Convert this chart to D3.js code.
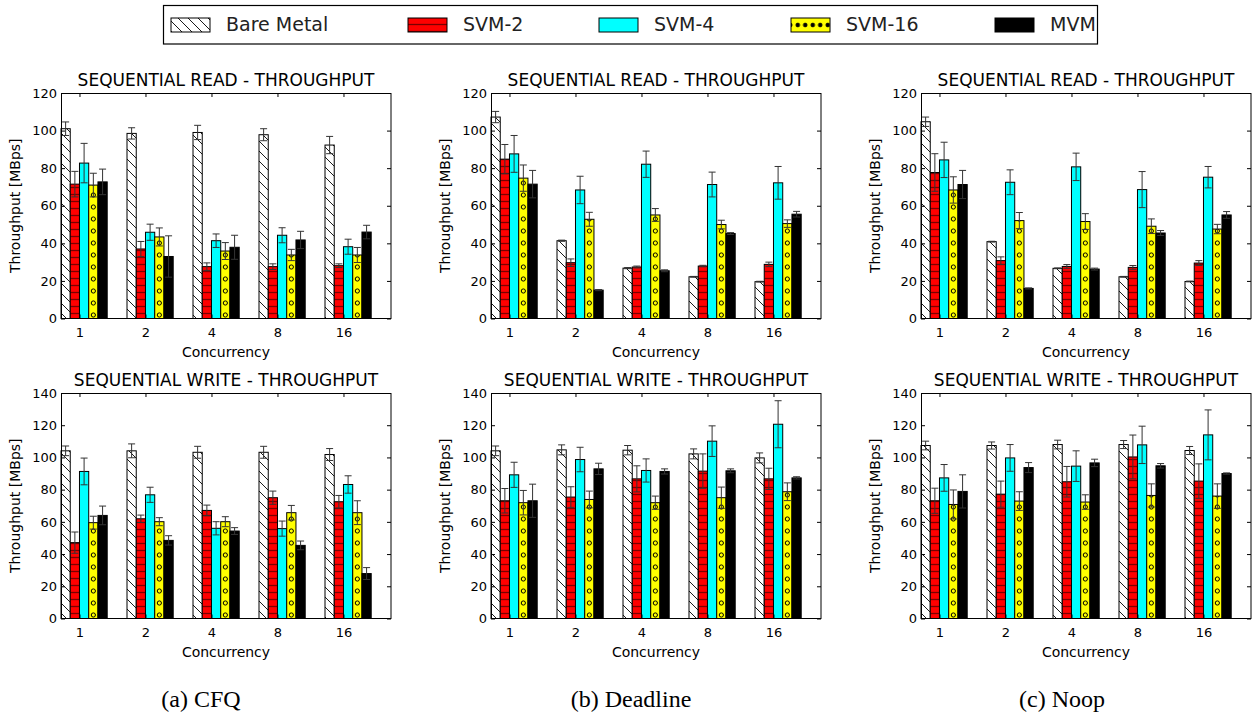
<!DOCTYPE html>
<html><head><meta charset="utf-8">
<script src="https://cdn.jsdelivr.net/npm/d3@7"></script>
<style>body{margin:0;background:#fff} svg{display:block}</style>
</head><body><svg id="c" width="1253" height="713"></svg>
<script>
// ---------- data ----------
const categories = ["1","2","4","8","16"];
const seriesNames = ["Bare Metal","SVM-2","SVM-4","SVM-16","MVM"];
const readTicks = [0,20,40,60,80,100,120];
const writeTicks = [0,20,40,60,80,100,120,140];
const rowTitles = ["SEQUENTIAL READ - THROUGHPUT","SEQUENTIAL WRITE - THROUGHPUT"];
const captions = ["(a) CFQ","(b) Deadline","(c) Noop"];
const xLabel = "Concurrency";
const yLabel = "Throughput [MBps]";

// rows = series (Bare Metal, SVM-2, SVM-4, SVM-16, MVM), cols = concurrency 1,2,4,8,16
const cfqReadMean = [
  [101,98.5,99,97.8,92.3],
  [71.5,37,27.6,27.6,28.1],
  [82.7,45.9,41.4,44.3,38.2],
  [71,43.4,35.9,33.8,33.8],
  [72.7,33,37.9,41.8,46]];
const cfqReadErr = [
  [3.6,3,3.8,3.2,4.6],
  [6.8,4,2,1.5,1],
  [10.5,4.3,3.6,4,4],
  [6.3,4.8,4.5,3,4],
  [6.8,11,6.4,4.6,3.6]];
const deadlineReadMean = [
  [107.2,41.4,26.8,22.2,19.6],
  [84.8,29.7,27.4,27.9,28.8],
  [87.6,68.4,82.1,71.3,72.2],
  [74.7,52.8,55.1,50,50.5],
  [71.5,15.1,25.4,45.2,55.5]];
const deadlineReadErr = [
  [3,0.3,0.3,0.2,0.2],
  [7.8,2,0.5,0.4,1.2],
  [9.8,7.3,7,6.6,8.7],
  [7,3.7,3.4,2.3,2],
  [7.3,0.3,0.5,0.5,1.5]];
const noopReadMean = [
  [104.7,40.9,26.7,22.2,19.7],
  [77.7,30.8,27.7,27.2,29.5],
  [84.4,72.5,80.7,68.6,75.2],
  [68.4,52.1,51.6,49.1,47.6],
  [71.3,16,26.3,45.5,55.1]];
const noopReadErr = [
  [2.5,0.2,0.2,0.2,0.2],
  [10,2,1,1,1.3],
  [9.4,6.6,7.3,9.6,5.7],
  [7,4.3,4.2,3.9,2.5],
  [7.5,0.3,0.5,1.3,1.8]];
const cfqWriteMean = [
  [104.1,104.1,103.2,103.2,101.8],
  [47.1,61.9,67.1,75,72.5],
  [91.3,76.8,56,55.8,83.2],
  [59.5,60.1,60.1,65.7,65.7],
  [64,48.5,54.3,45.4,27.9]];
const cfqWriteErr = [
  [3,4.3,3.7,3.7,3.7],
  [6.6,2.3,3.3,4.1,3.9],
  [8.3,4.7,4.1,4.7,5.4],
  [4,2.5,3.1,4.5,7.4],
  [5.8,2.9,2.1,2.7,3.7]];
const deadlineWriteMean = [
  [104.1,104.7,104.5,102.2,99.7],
  [73.1,75.4,86.7,91.5,86.7],
  [89.2,98.7,91.9,110.1,120.6],
  [71.9,73.9,71.9,75,78.7],
  [73.1,92.9,91.3,91.7,87.3]];
const deadlineWriteErr = [
  [3,3.1,2.9,3.1,3.1],
  [7.6,6.4,8.1,10.7,6.6],
  [7.8,7.6,7.2,9.5,14.6],
  [7.6,5.2,4.1,6.6,5.5],
  [10.3,3.5,1.6,1.2,0.7]];
const noopWriteMean = [
  [107.4,107.4,108,108,104.3],
  [73.1,77.2,84.9,100.3,85.3],
  [87.3,99.7,94.6,107.8,114],
  [70.8,72.9,72.3,76.4,76],
  [78.9,93.7,96.6,94.8,90]];
const noopWriteErr = [
  [2.7,2.2,2.7,2.5,2.5],
  [7.8,8.1,9.5,13.6,10.7],
  [8.3,8.3,9.5,11.6,15.5],
  [9,5.8,4.5,7.2,7.6],
  [10.3,3.1,2.3,1.4,0.4]];

// ---------- layout / style ----------
const FONT = "DejaVu Sans, Verdana, sans-serif";
const colLeft = [61, 491, 921];
const rowTop = [93, 393];
const plotW = 330, plotH = 225.5;
const barW = 0.14, tickOff = 0.28;
const seriesFill = ["#ffffff","#ff0000","#00ffff","#ffff00","#000000"];

const panels = [
  {col:0,row:0,mean:cfqReadMean,err:cfqReadErr,ticks:readTicks},
  {col:1,row:0,mean:deadlineReadMean,err:deadlineReadErr,ticks:readTicks},
  {col:2,row:0,mean:noopReadMean,err:noopReadErr,ticks:readTicks},
  {col:0,row:1,mean:cfqWriteMean,err:cfqWriteErr,ticks:writeTicks},
  {col:1,row:1,mean:deadlineWriteMean,err:deadlineWriteErr,ticks:writeTicks},
  {col:2,row:1,mean:noopWriteMean,err:noopWriteErr,ticks:writeTicks},
];

const svg = d3.select("#c");
svg.append("rect").attr("width",1253).attr("height",713).attr("fill","#fff");
const defs = svg.append("defs");

const x = d3.scaleLinear().domain([0, categories.length]).range([0, plotW]);
const step = x(1) - x(0);
const bw = x(barW) - x(0);

// patterns
function diagPattern(id){
  const p = defs.append("pattern").attr("id",id).attr("patternUnits","userSpaceOnUse")
    .attr("width",10).attr("height",10);
  p.append("rect").attr("width",10).attr("height",10).attr("fill","#fff");
  p.append("path").attr("d","M-5,5 L5,15 M0,0 L10,10 M5,-5 L15,5")
    .attr("stroke","#000").attr("stroke-width",0.9).attr("fill","none");
}
function redPattern(id){
  const p = defs.append("pattern").attr("id",id).attr("patternUnits","userSpaceOnUse")
    .attr("width",10).attr("height",7);
  p.append("rect").attr("width",10).attr("height",7).attr("fill","#ff0000");
  p.append("line").attr("x1",0).attr("x2",10).attr("y1",3.5).attr("y2",3.5)
    .attr("stroke","#7a0000").attr("stroke-width",1.3);
}
diagPattern("pat-bm");
redPattern("pat-red");
{
  const p = defs.append("pattern").attr("id","pat-yel").attr("patternUnits","userSpaceOnUse")
    .attr("width",step).attr("height",12);
  p.append("rect").attr("width",step).attr("height",12).attr("fill","#ffff00");
  p.append("circle").attr("cx",x(3*barW + barW/2) - x(0)).attr("cy",6).attr("r",2.1)
    .attr("fill","none").attr("stroke","#000").attr("stroke-width",1);
}
const seriesPaint = ["url(#pat-bm)","url(#pat-red)","#00ffff","url(#pat-yel)","#000000"];

panels.forEach(P => {
  const g = svg.append("g").attr("transform",`translate(${colLeft[P.col]},${rowTop[P.row]})`);
  const yMax = P.ticks[P.ticks.length-1];
  const y = d3.scaleLinear().domain([0, yMax]).range([plotH, 0]);

  // bars
  const bars = [];
  P.mean.forEach((row, s) => row.forEach((v, i) => bars.push({s, i, v, e: P.err[s][i]})));
  g.selectAll("rect.bar").data(bars).join("rect").attr("class","bar")
    .attr("x", d => x(d.i + d.s*barW))
    .attr("y", d => y(d.v))
    .attr("width", bw)
    .attr("height", d => y(0) - y(d.v))
    .attr("fill", d => seriesPaint[d.s])
    .attr("stroke","#000").attr("stroke-width",1);

  // error bars
  const eb = g.selectAll("g.eb").data(bars).join("g").attr("class","eb")
    .attr("stroke","#333").attr("stroke-width",1).attr("fill","none");
  eb.append("line")
    .attr("x1", d => x(d.i + d.s*barW + barW/2)).attr("x2", d => x(d.i + d.s*barW + barW/2))
    .attr("y1", d => y(d.v - d.e)).attr("y2", d => y(d.v + d.e));
  eb.append("line")
    .attr("x1", d => x(d.i + d.s*barW + barW/2) - 3.5).attr("x2", d => x(d.i + d.s*barW + barW/2) + 3.5)
    .attr("y1", d => y(d.v + d.e)).attr("y2", d => y(d.v + d.e));
  eb.append("line")
    .attr("x1", d => x(d.i + d.s*barW + barW/2) - 3.5).attr("x2", d => x(d.i + d.s*barW + barW/2) + 3.5)
    .attr("y1", d => y(d.v - d.e)).attr("y2", d => y(d.v - d.e));

  // axes
  const tickVals = categories.map((c, i) => i + tickOff);
  const styleAxis = a => { a.select(".domain").remove(); a.selectAll("text").attr("font-family",FONT).attr("font-size",13).attr("fill","#000"); a.selectAll("line").attr("stroke","#000"); };
  g.append("g").call(d3.axisLeft(y).tickValues(P.ticks).tickSize(-4).tickPadding(4)).call(styleAxis);
  g.append("g").attr("transform",`translate(${plotW},0)`).call(d3.axisRight(y).tickValues(P.ticks).tickSize(-4).tickFormat("")).call(styleAxis);
  g.append("g").attr("transform",`translate(0,${plotH})`).call(d3.axisBottom(x).tickValues(tickVals).tickSize(-4).tickPadding(9.5).tickFormat((d,i)=>categories[i])).call(styleAxis);
  g.append("g").call(d3.axisTop(x).tickValues(tickVals).tickSize(-4).tickFormat("")).call(styleAxis);

  // frame
  g.append("rect").attr("x",0.5).attr("y",0.5).attr("width",plotW-0.5).attr("height",plotH-0.5)
    .attr("fill","none").attr("stroke","#000").attr("stroke-width",1);

  // title, labels
  g.append("text").attr("x",plotW/2).attr("y",-7).attr("text-anchor","middle")
    .attr("font-family",FONT).attr("font-size",17).text(rowTitles[P.row]);
  g.append("text").attr("x",plotW/2).attr("y",plotH+38).attr("text-anchor","middle")
    .attr("font-family",FONT).attr("font-size",14).text(xLabel);
  g.append("text").attr("transform",`translate(-41,${plotH/2}) rotate(-90)`).attr("text-anchor","middle")
    .attr("font-family",FONT).attr("font-size",14).text(yLabel);
});

// captions
const capX = [201, 631, 1062];
captions.forEach((c, k) => {
  svg.append("text").attr("x",capX[k]).attr("y",707).attr("text-anchor","middle")
    .attr("font-family","Liberation Serif, Times New Roman, serif").attr("font-size",24).text(c);
});

// legend
const lg = svg.append("g");
lg.append("rect").attr("x",163.5).attr("y",5.5).attr("width",934).attr("height",38.5)
  .attr("fill","#fff").attr("stroke","#000").attr("stroke-width",1.2);
const legX = [171, 408, 599, 791, 995];
{
  const p = defs.append("pattern").attr("id","pat-yel-leg").attr("patternUnits","userSpaceOnUse")
    .attr("x",legX[3]+3).attr("y",18).attr("width",7.5).attr("height",14);
  p.append("rect").attr("width",7.5).attr("height",14).attr("fill","#ffff00");
  p.append("circle").attr("cx",3.75).attr("cy",7).attr("r",1.9)
    .attr("fill","#000").attr("stroke","#000").attr("stroke-width",0.8);
}
const legPaint = ["url(#pat-bm)","url(#pat-red)","#00ffff","url(#pat-yel-leg)","#000000"];
seriesNames.forEach((n, s) => {
  lg.append("rect").attr("x",legX[s]).attr("y",18).attr("width",39).attr("height",14)
    .attr("fill",legPaint[s]).attr("stroke","#000").attr("stroke-width",1);
  lg.append("text").attr("x",legX[s]+55).attr("y",30.5).attr("font-family",FONT)
    .attr("font-size",19).attr("fill","#222").text(n);
});
</script>
</body></html>
